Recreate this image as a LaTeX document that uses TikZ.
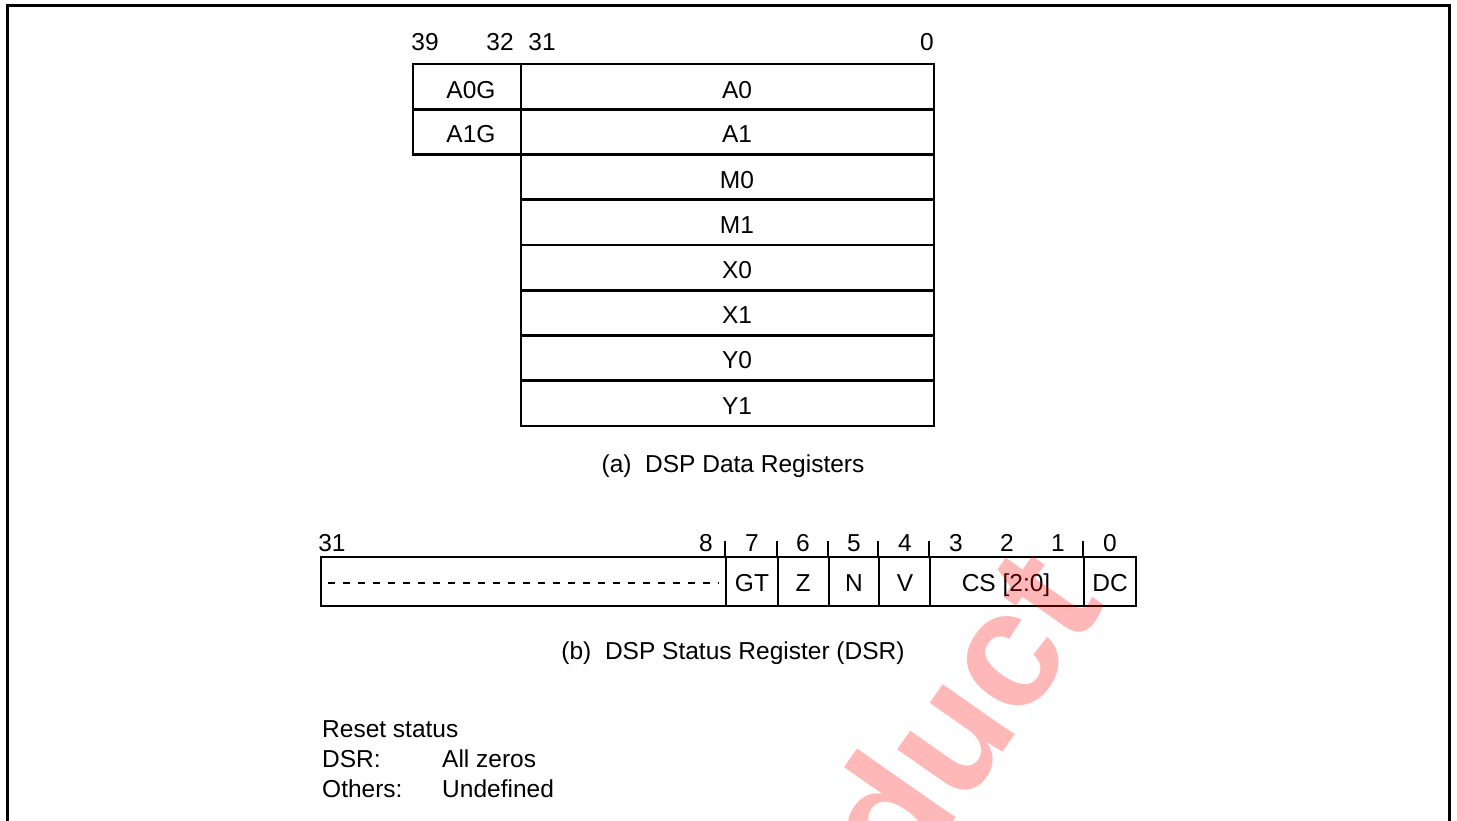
\documentclass[tikz,border=0pt]{standalone}
\usepackage{fontspec}
\setmainfont{Liberation Sans}
\begin{document}
\begin{tikzpicture}[x=1pt,y=-1pt,
  font=\fontsize{24.5}{29}\selectfont,
  cell/.style={draw, line width=2.6pt, inner sep=0pt, anchor=center},
  drow/.style={cell, minimum height=45.25pt},
  srow/.style={cell, minimum height=49pt},
  lbl/.style={inner sep=0pt, anchor=center},
  tick/.style={line width=2pt},
  frame/.style={line width=3pt},
  wmark/.style={rotate=55, text=red, opacity=0.28, inner sep=0pt,
    font=\fontsize{166}{166}\bfseries\selectfont}]
\useasboundingbox (0,0) rectangle (1457,821);
\fill[white] (0,0) rectangle (1457,821);
% frame
\draw[frame] (7.5,840) -- (7.5,5.5) -- (1449.5,5.5) -- (1449.5,840);

% (a) data registers
\node[drow, minimum width=108pt] (a0g) at (467,86.6) {};
\node[drow, minimum width=108pt] (a1g) at (467,131.9) {};
\node[drow, minimum width=413pt] (a0) at (727.5,86.6) {};
\node[drow, minimum width=413pt] (a1) at (727.5,131.9) {};
\node[drow, minimum width=413pt] (m0) at (727.5,177.1) {};
\node[drow, minimum width=413pt] (m1) at (727.5,222.4) {};
\node[drow, minimum width=413pt] (x0) at (727.5,267.6) {};
\node[drow, minimum width=413pt] (x1) at (727.5,312.9) {};
\node[drow, minimum width=413pt] (y0) at (727.5,358.1) {};
\node[drow, minimum width=413pt] (y1) at (727.5,403.4) {};
\node[lbl] (ta0g) at (471,90) {A0G};
\node[lbl] (ta1g) at (471,134) {A1G};
\node[lbl] (ta0) at (737,90) {A0};
\node[lbl] (ta1) at (737,134) {A1};
\node[lbl] (tm0) at (737,180) {M0};
\node[lbl] (tm1) at (737,225) {M1};
\node[lbl] (tx0) at (737,270) {X0};
\node[lbl] (tx1) at (737,315) {X1};
\node[lbl] (ty0) at (737,360.5) {Y0};
\node[lbl] (ty1) at (737,406) {Y1};
\node[lbl] (b39) at (425,42) {39};
\node[lbl] (b32) at (500,42) {32};
\node[lbl] (b31) at (542,42) {31};
\node[lbl] (b0) at (927,42) {0};
\node[lbl] (capa) at (733,466) {(a)~~DSP Data Registers};

% (b) status register
\node[srow, minimum width=405pt] (res) at (523.5,581.5) {};
\node[srow, minimum width=52pt] (gt) at (752,581.5) {};
\node[srow, minimum width=51pt] (z) at (803.5,581.5) {};
\node[srow, minimum width=50pt] (n) at (854,581.5) {};
\node[srow, minimum width=51pt] (v) at (904.5,581.5) {};
\node[srow, minimum width=154pt] (cs) at (1007,581.5) {};
\node[srow, minimum width=52pt] (dc) at (1110,581.5) {};
\node[lbl] (tgt) at (752,583.5) {GT};
\node[lbl] (tz) at (803,583.5) {Z};
\node[lbl] (tn) at (854,583.5) {N};
\node[lbl] (tv) at (905,583.5) {V};
\node[lbl, yshift=-1.5pt] (tcs) at (1006,583.5) {CS [2:0]};
\node[lbl] (tdc) at (1110,583.5) {DC};
\draw[line width=1.4pt, dash pattern=on 7pt off 8pt]
  ([xshift=8pt,yshift=-1.5pt]res.west) -- ([xshift=-8pt,yshift=-1.5pt]res.east);
\foreach \c in {gt,z,n,v,cs,dc}
  \draw[tick] (\c.north west) -- ++(0,-15);
\node[lbl] (s31) at (332,543) {31};
\node[lbl] (s8) at (706,543) {8};
\node[lbl] (s7) at (752,543) {7};
\node[lbl] (s6) at (803,543) {6};
\node[lbl] (s5) at (854,543) {5};
\node[lbl] (s4) at (905,543) {4};
\node[lbl] (s3) at (956,543) {3};
\node[lbl] (s2) at (1007,543) {2};
\node[lbl] (s1) at (1058,543) {1};
\node[lbl] (s0) at (1110,543) {0};
\node[lbl] (capb) at (733,653) {(b)~~DSP Status Register (DSR)};

% reset status
\node[lbl, anchor=west] (rs) at (322,729) {Reset status};
\node[lbl, anchor=west] (dsr) at (322,759) {DSR:};
\node[lbl, anchor=west] (dsrv) at (442,759) {All zeros};
\node[lbl, anchor=west] (oth) at (322,789) {Others:};
\node[lbl, anchor=west] (othv) at (442,789) {Undefined};

% watermark
\node[wmark, anchor=base east] (wm) at (1106,604) {duct};
\end{tikzpicture}
\end{document}
